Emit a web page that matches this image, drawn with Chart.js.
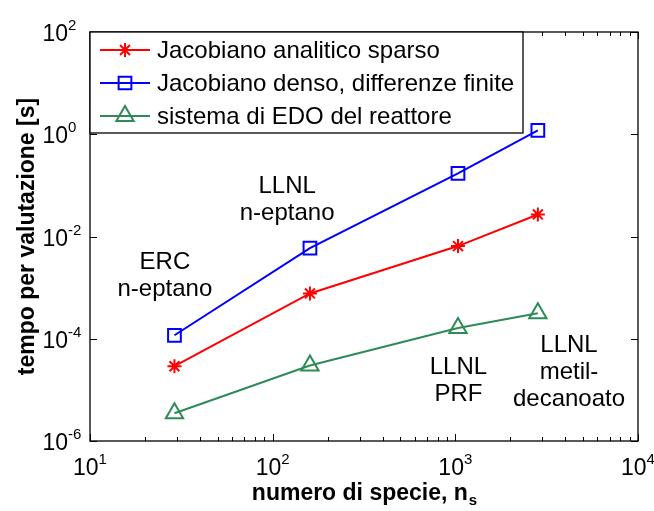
<!DOCTYPE html>
<html>
<head>
<meta charset="utf-8">
<script src="https://cdn.jsdelivr.net/npm/chart.js"></script>
<style>
  body { margin: 0; background: #fff; }
  #wrap { width: 654px; height: 511px; }
</style>
</head>
<body>
<div id="wrap"><canvas id="myChart" width="654" height="511"></canvas></div>
<script>
// numero di specie dei meccanismi
const species = [29, 160, 1034, 2830];
// tempo per valutazione [s]
const sparseJac = [2.9e-5, 7.7e-4, 6.5e-3, 2.7e-2];
const denseJac = [1.17e-4, 5.9e-3, 0.172, 1.19];
const odeSystem = [3.5e-6, 3.0e-5, 1.62e-4, 3.16e-4];

const seriesLabels = ['Jacobiano analitico sparso', 'Jacobiano denso, differenze finite', 'sistema di EDO del reattore'];
const colors = ['#ff0000', '#0000ff', '#2e8b57'];

const xTickExp = [1, 2, 3, 4];
const yTickExp = [-6, -4, -2, 0, 2];

// etichette dei meccanismi (ancorate in coordinate dei dati)
const mechLabels = [
  { lines: ['ERC', 'n-eptano'], x: 25.7, y: 2.3e-3 },
  { lines: ['LLNL', 'n-eptano'], x: 120, y: 0.0706 },
  { lines: ['LLNL', 'PRF'], x: 1040, y: 2.03e-5 },
  { lines: ['LLNL', 'metil-', 'decanoato'], x: 4190, y: 5.47e-5 }
];

function pts(vals) {
  return species.map((s, i) => ({ x: s, y: vals[i] }));
}

const styles = [
  { pointStyle: 'star', radius: 7 },
  { pointStyle: 'rect', radius: 9 },
  { pointStyle: 'triangle', radius: 10 }
];

const FONT = '"Liberation Sans", Arial, sans-serif';

function supText(ctx, base, exp, x, y, align) {
  ctx.font = '23px ' + FONT;
  const wb = ctx.measureText(base).width;
  ctx.font = '15px ' + FONT;
  const we = ctx.measureText(exp).width;
  let x0 = x;
  if (align === 'center') x0 = x - (wb + we) / 2;
  ctx.textAlign = 'left';
  ctx.textBaseline = 'alphabetic';
  ctx.font = '23px ' + FONT;
  ctx.fillText(base, x0, y);
  ctx.font = '15px ' + FONT;
  ctx.fillText(exp, x0 + wb, y - 11);
}

const framePlugin = {
  id: 'frame',
  beforeDatasetsDraw(chart) {
    const ctx = chart.ctx;
    const a = chart.chartArea;
    const xs = chart.scales.x, ys = chart.scales.y;
    ctx.save();
    ctx.strokeStyle = '#000';
    ctx.lineWidth = 1;
    ctx.beginPath();
    // x ticks (major + minor), bottom and top
    for (let e = 1; e < 4; e++) {
      for (let m = 1; m <= 10; m++) {
        const px = Math.round(xs.getPixelForValue(m * Math.pow(10, e))) + 0.5;
        const len = (m === 1 || m === 10) ? 7 : 4;
        ctx.moveTo(px, a.bottom); ctx.lineTo(px, a.bottom - len);
        ctx.moveTo(px, a.top); ctx.lineTo(px, a.top + len);
      }
    }
    yTickExp.forEach(e => {
      const py = Math.round(ys.getPixelForValue(Math.pow(10, e))) + 0.5;
      ctx.moveTo(a.left, py); ctx.lineTo(a.left + 7, py);
      ctx.moveTo(a.right, py); ctx.lineTo(a.right - 7, py);
    });
    ctx.stroke();
    ctx.lineWidth = 1.3;
    ctx.strokeRect(a.left, a.top, a.right - a.left, a.bottom - a.top);

    ctx.fillStyle = '#000';
    xTickExp.forEach(e => {
      const px = xs.getPixelForValue(Math.pow(10, e));
      supText(ctx, '10', String(e), px, a.bottom + 34, 'center');
    });
    yTickExp.forEach(e => {
      const py = ys.getPixelForValue(Math.pow(10, e));
      ctx.font = '23px ' + FONT;
      const wb = ctx.measureText('10').width;
      supText(ctx, '10', String(e), 68 - wb, py + 9, 'left');
    });

    // axis titles
    ctx.font = 'bold 23px ' + FONT;
    const t1 = 'numero di specie, n';
    const w1 = ctx.measureText(t1).width;
    ctx.font = 'bold 15px ' + FONT;
    const w2 = ctx.measureText('s').width;
    const cx = (a.left + a.right) / 2;
    const x0 = cx - (w1 + w2) / 2;
    ctx.textAlign = 'left';
    ctx.font = 'bold 23px ' + FONT;
    ctx.fillText(t1, x0, 500);
    ctx.font = 'bold 15px ' + FONT;
    ctx.fillText('s', x0 + w1 + 1, 505);

    ctx.save();
    ctx.translate(34, (a.top + a.bottom) / 2);
    ctx.rotate(-Math.PI / 2);
    ctx.textAlign = 'center';
    ctx.font = 'bold 23px ' + FONT;
    ctx.fillText('tempo per valutazione [s]', 0, 0);
    ctx.restore();
    ctx.restore();
  },
  afterDatasetsDraw(chart) {
    const ctx = chart.ctx;
    const a = chart.chartArea;
    const xs = chart.scales.x, ys = chart.scales.y;
    ctx.save();
    // mechanism labels
    ctx.fillStyle = '#000';
    ctx.font = '24px ' + FONT;
    ctx.textAlign = 'center';
    ctx.textBaseline = 'alphabetic';
    mechLabels.forEach(l => {
      const px = xs.getPixelForValue(l.x);
      const py = ys.getPixelForValue(l.y);
      l.lines.forEach((s, i) => ctx.fillText(s, px, py + i * 27));
    });

    // legend
    const lx = a.left, ly = a.top, lw = 433, lh = 101;
    ctx.fillStyle = '#fff';
    ctx.fillRect(lx, ly, lw, lh);
    ctx.strokeStyle = '#000';
    ctx.lineWidth = 1.3;
    ctx.strokeRect(lx, ly, lw, lh);
    seriesLabels.forEach((lab, i) => {
      const y = ly + 18 + i * 33;
      ctx.strokeStyle = colors[i];
      ctx.lineWidth = 2;
      ctx.beginPath();
      ctx.moveTo(lx + 10, y); ctx.lineTo(lx + 60, y);
      ctx.stroke();
      ctx.fillStyle = 'rgba(0,0,0,0)';
      Chart.helpers.drawPoint(ctx, { pointStyle: styles[i].pointStyle, radius: styles[i].radius, rotation: 0, borderWidth: 2 }, lx + 35, y);
      ctx.fillStyle = '#000';
      ctx.textAlign = 'left';
      ctx.textBaseline = 'middle';
      ctx.font = '24px ' + FONT;
      ctx.fillText(lab, lx + 67, y + 1);
    });
    ctx.restore();
  }
};

const sets = [sparseJac, denseJac, odeSystem].map((vals, i) => ({
  label: seriesLabels[i],
  data: pts(vals),
  showLine: true,
  borderColor: colors[i],
  backgroundColor: 'rgba(0,0,0,0)',
  borderWidth: 2,
  pointStyle: styles[i].pointStyle,
  pointRadius: styles[i].radius,
  pointBorderWidth: 2,
  pointBorderColor: colors[i],
  pointBackgroundColor: 'rgba(0,0,0,0)'
}));

new Chart(document.getElementById('myChart').getContext('2d'), {
  type: 'scatter',
  data: { datasets: sets },
  options: {
    responsive: false,
    animation: false,
    devicePixelRatio: 1,
    layout: { padding: { left: 90, top: 32, right: 16, bottom: 70 } },
    plugins: { legend: { display: false }, tooltip: { enabled: false } },
    scales: {
      x: { type: 'logarithmic', min: 10, max: 10000, display: false },
      y: { type: 'logarithmic', min: 1e-6, max: 100, display: false }
    }
  },
  plugins: [framePlugin]
});
</script>
</body>
</html>
